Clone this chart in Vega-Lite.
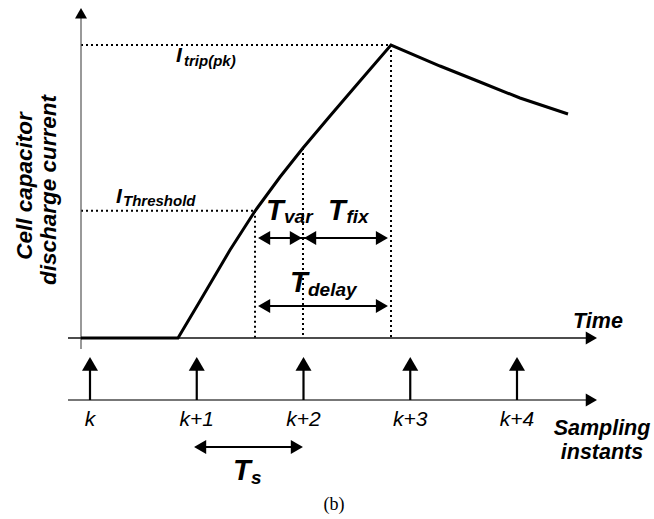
{
  "$schema": "https://vega.github.io/schema/vega-lite/v6.json",
  "width": 654,
  "height": 519,
  "padding": 0,
  "autosize": {"type": "fit", "contains": "padding"},
  "background": "white",
  "config": {"view": {"stroke": null}},
  "datasets": {
    "curve": [
      {"t": -0.0843, "I": 0},
      {"t": 0.8244, "I": 0},
      {"t": 1.0304, "I": 0.1263},
      {"t": 1.3115, "I": 0.3003},
      {"t": 1.5457, "I": 0.4334},
      {"t": 1.7799, "I": 0.5495},
      {"t": 1.9953, "I": 0.6485},
      {"t": 2.2482, "I": 0.7577},
      {"t": 2.5293, "I": 0.8771},
      {"t": 2.8197, "I": 1.0},
      {"t": 3.2787, "I": 0.9283},
      {"t": 3.6534, "I": 0.8737},
      {"t": 4.0281, "I": 0.8191},
      {"t": 4.4778, "I": 0.7645}
    ],
    "dotted": [
      {"t": -0.0843, "t2": 2.8197, "I": 1.0, "I2": 1.0},
      {"t": -0.0843, "t2": 1.5457, "I": 0.4345, "I2": 0.4345},
      {"t": 1.5457, "t2": 1.5457, "I": 0.4345, "I2": 0},
      {"t": 1.9953, "t2": 1.9953, "I": 0.6485, "I2": 0},
      {"t": 2.8197, "t2": 2.8197, "I": 1.0, "I2": 0}
    ],
    "yaxis": [{"t": -0.0843, "t2": -0.0843, "I": -0.0375, "I2": 1.11}],
    "timeaxis": [{"t": -0.206, "t2": 4.69, "I": 0, "I2": 0}],
    "sampaxis": [{"t": -0.206, "t2": 4.69, "I": -0.2116, "I2": -0.2116}],
    "arrowlines": [
      {"t": 0, "t2": 0, "I": -0.2116, "I2": -0.09},
      {"t": 1, "t2": 1, "I": -0.2116, "I2": -0.09},
      {"t": 2, "t2": 2, "I": -0.2116, "I2": -0.09},
      {"t": 3, "t2": 3, "I": -0.2116, "I2": -0.09},
      {"t": 4, "t2": 4, "I": -0.2116, "I2": -0.09},
      {"t": 1.6, "t2": 2.76, "I": 0.3413, "I2": 0.3413},
      {"t": 1.6, "t2": 2.76, "I": 0.1092, "I2": 0.1092},
      {"t": 1.0, "t2": 1.97, "I": -0.372, "I2": -0.372}
    ],
    "headsBig": [
      {"t": 0, "I": -0.0884},
      {"t": 1, "I": -0.0884},
      {"t": 2, "I": -0.0884},
      {"t": 3, "I": -0.0884},
      {"t": 4, "I": -0.0884}
    ],
    "headsAxisUp": [{"t": -0.0843, "I": 1.1085}],
    "headsAxisRight": [{"t": 4.697, "I": 0}, {"t": 4.697, "I": -0.2116}],
    "headsLeft": [
      {"t": 1.6309, "I": 0.3413},
      {"t": 2.0618, "I": 0.3413},
      {"t": 1.6309, "I": 0.1092},
      {"t": 1.0314, "I": -0.372}
    ],
    "headsRight": [
      {"t": 1.9288, "I": 0.3413},
      {"t": 2.7345, "I": 0.3413},
      {"t": 2.7345, "I": 0.1092},
      {"t": 1.9382, "I": -0.372}
    ],
    "bigT": [
      {"label": "T", "t": 1.6487, "I": 0.4027},
      {"label": "T", "t": 2.2295, "I": 0.4027},
      {"label": "T", "t": 1.8735, "I": 0.157},
      {"label": "T", "t": 1.3396, "I": -0.4846}
    ],
    "subT": [
      {"label": "var", "t": 1.8173, "I": 0.3925},
      {"label": "fix", "t": 2.4028, "I": 0.3925},
      {"label": "delay", "t": 2.0422, "I": 0.1433},
      {"label": "s", "t": 1.5082, "I": -0.4983}
    ],
    "mainI": [
      {"label": "I", "t": 0.8056, "I": 0.942},
      {"label": "I", "t": 0.2436, "I": 0.4608}
    ],
    "subI": [
      {"label": "trip(pk)", "t": 0.8806, "I": 0.9283},
      {"label": "Threshold", "t": 0.3091, "I": 0.4505}
    ],
    "titles": [
      {"label": "Time", "t": 4.7588, "I": 0.0341},
      {"label": "Sampling", "t": 4.7963, "I": -0.331},
      {"label": "instants", "t": 4.7963, "I": -0.413}
    ],
    "ytitle": [
      {"label": "Cell capacitor", "t": -0.6089, "I": 0.5188},
      {"label": "discharge current", "t": -0.3841, "I": 0.5051}
    ],
    "klabels": [
      {"label": "k", "t": 0, "I": -0.3003},
      {"label": "k+1", "t": 1, "I": -0.3003},
      {"label": "k+2", "t": 2, "I": -0.3003},
      {"label": "k+3", "t": 3, "I": -0.3003},
      {"label": "k+4", "t": 4, "I": -0.3003}
    ],
    "caption": [{"label": "(b)", "t": 2.2857, "I": -0.587}]
  },
  "layer": [
    {
      "data": {"name": "dotted"},
      "mark": {"type": "rule", "color": "black", "strokeWidth": 2, "strokeDash": [2, 3]},
      "encoding": {
        "x": {"field": "t", "type": "quantitative", "scale": {"domain": [-0.8431, 5.2834], "nice": false, "zero": false}, "axis": null},
        "x2": {"field": "t2"},
        "y": {"field": "I", "type": "quantitative", "scale": {"domain": [-0.6177, 1.1536], "nice": false, "zero": false}, "axis": null},
        "y2": {"field": "I2"}
      }
    },
    {
      "data": {"name": "yaxis"},
      "mark": {"type": "rule", "color": "#555555", "strokeWidth": 1.2},
      "encoding": {
        "x": {"field": "t", "type": "quantitative", "scale": {"domain": [-0.8431, 5.2834], "nice": false, "zero": false}, "axis": null},
        "x2": {"field": "t2"},
        "y": {"field": "I", "type": "quantitative", "scale": {"domain": [-0.6177, 1.1536], "nice": false, "zero": false}, "axis": null},
        "y2": {"field": "I2"}
      }
    },
    {
      "data": {"name": "timeaxis"},
      "mark": {"type": "rule", "color": "#111111", "strokeWidth": 1.3},
      "encoding": {
        "x": {"field": "t", "type": "quantitative", "scale": {"domain": [-0.8431, 5.2834], "nice": false, "zero": false}, "axis": null},
        "x2": {"field": "t2"},
        "y": {"field": "I", "type": "quantitative", "scale": {"domain": [-0.6177, 1.1536], "nice": false, "zero": false}, "axis": null},
        "y2": {"field": "I2"}
      }
    },
    {
      "data": {"name": "sampaxis"},
      "mark": {"type": "rule", "color": "#777777", "strokeWidth": 2},
      "encoding": {
        "x": {"field": "t", "type": "quantitative", "scale": {"domain": [-0.8431, 5.2834], "nice": false, "zero": false}, "axis": null},
        "x2": {"field": "t2"},
        "y": {"field": "I", "type": "quantitative", "scale": {"domain": [-0.6177, 1.1536], "nice": false, "zero": false}, "axis": null},
        "y2": {"field": "I2"}
      }
    },
    {
      "data": {"name": "arrowlines"},
      "mark": {"type": "rule", "color": "black", "strokeWidth": 2.2},
      "encoding": {
        "x": {"field": "t", "type": "quantitative", "scale": {"domain": [-0.8431, 5.2834], "nice": false, "zero": false}, "axis": null},
        "x2": {"field": "t2"},
        "y": {"field": "I", "type": "quantitative", "scale": {"domain": [-0.6177, 1.1536], "nice": false, "zero": false}, "axis": null},
        "y2": {"field": "I2"}
      }
    },
    {
      "data": {"name": "curve"},
      "mark": {"type": "line", "color": "black", "strokeWidth": 3, "strokeJoin": "miter"},
      "encoding": {
        "x": {"field": "t", "type": "quantitative", "scale": {"domain": [-0.8431, 5.2834], "nice": false, "zero": false}, "axis": null},
        "y": {"field": "I", "type": "quantitative", "scale": {"domain": [-0.6177, 1.1536], "nice": false, "zero": false}, "axis": null}
      }
    },
    {
      "data": {"name": "headsBig"},
      "mark": {"type": "point", "shape": "triangle-up", "size": 256, "filled": true, "color": "black", "opacity": 1, "strokeWidth": 0},
      "encoding": {
        "x": {"field": "t", "type": "quantitative", "scale": {"domain": [-0.8431, 5.2834], "nice": false, "zero": false}, "axis": null},
        "y": {"field": "I", "type": "quantitative", "scale": {"domain": [-0.6177, 1.1536], "nice": false, "zero": false}, "axis": null}
      }
    },
    {
      "data": {"name": "headsAxisUp"},
      "mark": {"type": "point", "shape": "triangle-up", "size": 144, "filled": true, "color": "black", "opacity": 1, "strokeWidth": 0},
      "encoding": {
        "x": {"field": "t", "type": "quantitative", "scale": {"domain": [-0.8431, 5.2834], "nice": false, "zero": false}, "axis": null},
        "y": {"field": "I", "type": "quantitative", "scale": {"domain": [-0.6177, 1.1536], "nice": false, "zero": false}, "axis": null}
      }
    },
    {
      "data": {"name": "headsAxisRight"},
      "mark": {"type": "point", "shape": "triangle-right", "size": 169, "filled": true, "color": "black", "opacity": 1, "strokeWidth": 0},
      "encoding": {
        "x": {"field": "t", "type": "quantitative", "scale": {"domain": [-0.8431, 5.2834], "nice": false, "zero": false}, "axis": null},
        "y": {"field": "I", "type": "quantitative", "scale": {"domain": [-0.6177, 1.1536], "nice": false, "zero": false}, "axis": null}
      }
    },
    {
      "data": {"name": "headsLeft"},
      "mark": {"type": "point", "shape": "triangle-left", "size": 196, "filled": true, "color": "black", "opacity": 1, "strokeWidth": 0},
      "encoding": {
        "x": {"field": "t", "type": "quantitative", "scale": {"domain": [-0.8431, 5.2834], "nice": false, "zero": false}, "axis": null},
        "y": {"field": "I", "type": "quantitative", "scale": {"domain": [-0.6177, 1.1536], "nice": false, "zero": false}, "axis": null}
      }
    },
    {
      "data": {"name": "headsRight"},
      "mark": {"type": "point", "shape": "triangle-right", "size": 196, "filled": true, "color": "black", "opacity": 1, "strokeWidth": 0},
      "encoding": {
        "x": {"field": "t", "type": "quantitative", "scale": {"domain": [-0.8431, 5.2834], "nice": false, "zero": false}, "axis": null},
        "y": {"field": "I", "type": "quantitative", "scale": {"domain": [-0.6177, 1.1536], "nice": false, "zero": false}, "axis": null}
      }
    },
    {
      "data": {"name": "bigT"},
      "mark": {"type": "text", "font": "Liberation Sans", "fontWeight": "bold", "fontStyle": "italic", "fontSize": 29, "align": "left", "baseline": "alphabetic", "color": "black"},
      "encoding": {
        "x": {"field": "t", "type": "quantitative", "scale": {"domain": [-0.8431, 5.2834], "nice": false, "zero": false}, "axis": null},
        "y": {"field": "I", "type": "quantitative", "scale": {"domain": [-0.6177, 1.1536], "nice": false, "zero": false}, "axis": null},
        "text": {"field": "label"}
      }
    },
    {
      "data": {"name": "subT"},
      "mark": {"type": "text", "font": "Liberation Sans", "fontWeight": "bold", "fontStyle": "italic", "fontSize": 19, "align": "left", "baseline": "alphabetic", "color": "black"},
      "encoding": {
        "x": {"field": "t", "type": "quantitative", "scale": {"domain": [-0.8431, 5.2834], "nice": false, "zero": false}, "axis": null},
        "y": {"field": "I", "type": "quantitative", "scale": {"domain": [-0.6177, 1.1536], "nice": false, "zero": false}, "axis": null},
        "text": {"field": "label"}
      }
    },
    {
      "data": {"name": "mainI"},
      "mark": {"type": "text", "font": "Liberation Sans", "fontWeight": "bold", "fontStyle": "italic", "fontSize": 21, "align": "left", "baseline": "alphabetic", "color": "black"},
      "encoding": {
        "x": {"field": "t", "type": "quantitative", "scale": {"domain": [-0.8431, 5.2834], "nice": false, "zero": false}, "axis": null},
        "y": {"field": "I", "type": "quantitative", "scale": {"domain": [-0.6177, 1.1536], "nice": false, "zero": false}, "axis": null},
        "text": {"field": "label"}
      }
    },
    {
      "data": {"name": "subI"},
      "mark": {"type": "text", "font": "Liberation Sans", "fontWeight": "bold", "fontStyle": "italic", "fontSize": 15, "align": "left", "baseline": "alphabetic", "color": "black"},
      "encoding": {
        "x": {"field": "t", "type": "quantitative", "scale": {"domain": [-0.8431, 5.2834], "nice": false, "zero": false}, "axis": null},
        "y": {"field": "I", "type": "quantitative", "scale": {"domain": [-0.6177, 1.1536], "nice": false, "zero": false}, "axis": null},
        "text": {"field": "label"}
      }
    },
    {
      "data": {"name": "titles"},
      "mark": {"type": "text", "font": "Liberation Sans", "fontWeight": "bold", "fontStyle": "italic", "fontSize": 21.5, "align": "center", "baseline": "alphabetic", "color": "black"},
      "encoding": {
        "x": {"field": "t", "type": "quantitative", "scale": {"domain": [-0.8431, 5.2834], "nice": false, "zero": false}, "axis": null},
        "y": {"field": "I", "type": "quantitative", "scale": {"domain": [-0.6177, 1.1536], "nice": false, "zero": false}, "axis": null},
        "text": {"field": "label"}
      }
    },
    {
      "data": {"name": "ytitle"},
      "mark": {"type": "text", "font": "Liberation Sans", "fontWeight": "bold", "fontStyle": "italic", "fontSize": 22.5, "align": "center", "baseline": "middle", "angle": 270, "color": "black"},
      "encoding": {
        "x": {"field": "t", "type": "quantitative", "scale": {"domain": [-0.8431, 5.2834], "nice": false, "zero": false}, "axis": null},
        "y": {"field": "I", "type": "quantitative", "scale": {"domain": [-0.6177, 1.1536], "nice": false, "zero": false}, "axis": null},
        "text": {"field": "label"}
      }
    },
    {
      "data": {"name": "klabels"},
      "mark": {"type": "text", "font": "Liberation Sans", "fontStyle": "italic", "fontSize": 21, "align": "center", "baseline": "alphabetic", "color": "black"},
      "encoding": {
        "x": {"field": "t", "type": "quantitative", "scale": {"domain": [-0.8431, 5.2834], "nice": false, "zero": false}, "axis": null},
        "y": {"field": "I", "type": "quantitative", "scale": {"domain": [-0.6177, 1.1536], "nice": false, "zero": false}, "axis": null},
        "text": {"field": "label"}
      }
    },
    {
      "data": {"name": "caption"},
      "mark": {"type": "text", "font": "Liberation Serif", "fontSize": 18, "align": "center", "baseline": "alphabetic", "color": "black"},
      "encoding": {
        "x": {"field": "t", "type": "quantitative", "scale": {"domain": [-0.8431, 5.2834], "nice": false, "zero": false}, "axis": null},
        "y": {"field": "I", "type": "quantitative", "scale": {"domain": [-0.6177, 1.1536], "nice": false, "zero": false}, "axis": null},
        "text": {"field": "label"}
      }
    }
  ]
}
